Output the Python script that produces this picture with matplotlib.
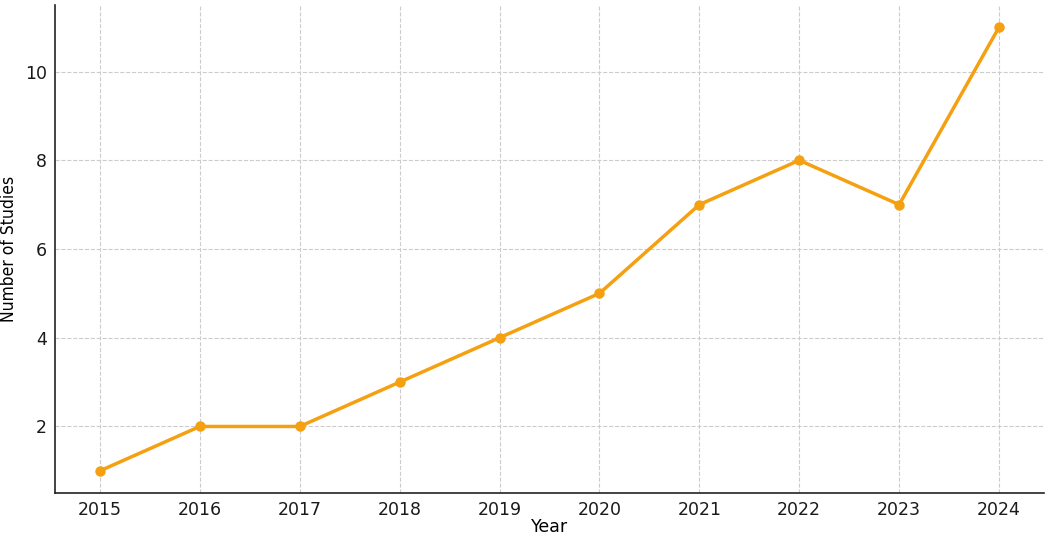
import matplotlib
matplotlib.use("Agg")
import matplotlib.pyplot as plt

# data
years = [2015, 2016, 2017, 2018, 2019, 2020, 2021, 2022, 2023, 2024]
studies = [1, 2, 2, 3, 4, 5, 7, 8, 7, 11]

line_color = "#F5A011"
plt.rcParams["font.family"] = ["DejaVu Sans"]

fig = plt.figure(figsize=(10.52, 5.36), dpi=100)
ax = fig.add_axes([55 / 1052, 43 / 536, 989 / 1052, 488 / 536])

ax.plot(years, studies, color=line_color, linewidth=2.5, marker="o", markersize=6.5)

ax.set_xticks(years)
ax.set_yticks([2, 4, 6, 8, 10])
ax.tick_params(length=0, labelsize=12.5, colors="#1a1a1a", pad=6)
ax.grid(True, linestyle="--", color="#cccccc", linewidth=0.8)
ax.set_axisbelow(True)

for side in ["top", "right"]:
    ax.spines[side].set_visible(False)
for side in ["left", "bottom"]:
    ax.spines[side].set_color("#222222")
    ax.spines[side].set_linewidth(1.2)

ax.set_xlabel("Year", fontsize=12.5)
ax.set_ylabel("Number of Studies", fontsize=12.5, fontstretch="condensed")
# place labels the way the reference has them
ax.xaxis.set_label_coords(0.5, -0.052)
ax.yaxis.set_label_coords(-0.037, 0.5)

fig.savefig("out.png", dpi=100)
